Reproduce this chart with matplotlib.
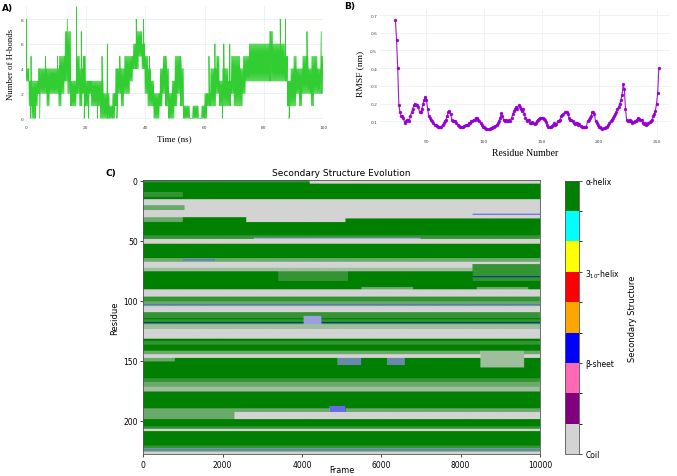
import numpy as np
import matplotlib
matplotlib.use("Agg")
import matplotlib.pyplot as plt
from matplotlib.colors import ListedColormap, BoundaryNorm

# ---- A) H-bonds per ns bin: low / high of the dense band, plus single spikes
hb_lo = [3, 1, 0, 1, 2, 2, 2, 1, 2, 2, 2, 1, 2, 3, 2, 1, 1, 2, 1, 2,
         1, 2, 1, 1, 1, 0, 0, 0, 0, 0, 1, 2, 1, 2, 2, 3, 4, 4, 5, 4,
         2, 1, 1, 0, 0, 1, 2, 1, 0, 0, 1, 2, 1, 0, 0, 0, 0, 0, 0, 0,
         0, 1, 1, 1, 2, 1, 1, 1, 1, 2, 1, 1, 1, 2, 3, 3, 3, 3, 3, 3,
         3, 3, 3, 3, 3, 3, 3, 3, 1, 1, 1, 2, 1, 2, 2, 2, 1, 2, 2, 2]
hb_hi = [4, 3, 3, 3, 4, 4, 4, 4, 4, 4, 4, 5, 5, 7, 7, 3, 3, 5, 4, 5,
         3, 3, 3, 3, 3, 3, 2, 2, 1, 2, 4, 4, 4, 5, 5, 5, 6, 7, 7, 6,
         5, 4, 3, 2, 2, 4, 5, 4, 2, 3, 5, 5, 4, 1, 1, 0, 1, 1, 0, 1,
         2, 2, 4, 4, 5, 3, 4, 4, 3, 5, 5, 5, 4, 5, 5, 6, 6, 6, 6, 6,
         6, 6, 7, 6, 6, 6, 6, 5, 3, 4, 5, 4, 4, 5, 5, 4, 5, 5, 4, 5]
hb_spike_t = [0.1, 1.6, 6.5, 10.5, 13.8, 16.9, 18.5, 25.5, 27.3, 31.5, 37.0, 39.5,
              41.5, 47.0, 52.0, 61.5, 63.5, 66.5, 68.5, 82.0, 85.5, 87.3, 94.5, 99.3,
              1.5, 3.0, 4.5, 19.5, 21.0, 24.0, 30.5, 44.0, 49.0, 66.0, 88.5]
hb_spike_v = [8, 5, 5, 5, 8, 9, 7, 5, 6, 5, 8, 8,
              5, 5, 5, 5, 6, 6, 6, 7, 8, 8, 7, 7,
              0, 0, 0, 0, 0, 0, 0, 0, 0, 0, 0]

# ---- B) RMSF per residue (nm)
rmsf_first_residue = 23
rmsf = [0.67, 0.56, 0.40, 0.19, 0.15, 0.13, 0.13, 0.12, 0.09, 0.10, 0.11, 0.11, 0.10, 0.13,
        0.15, 0.17, 0.19, 0.20, 0.19, 0.19, 0.18, 0.15, 0.15, 0.17, 0.20, 0.22, 0.24, 0.22,
        0.17, 0.13, 0.12, 0.11, 0.10, 0.09, 0.08, 0.08, 0.075, 0.07, 0.065, 0.07, 0.07, 0.08,
        0.09, 0.10, 0.11, 0.13, 0.15, 0.16, 0.14, 0.11, 0.10, 0.10, 0.10, 0.09, 0.08, 0.075,
        0.07, 0.07, 0.065, 0.07, 0.075, 0.08, 0.08,
        0.08, 0.09, 0.09, 0.10, 0.10, 0.11, 0.11, 0.12, 0.12, 0.11, 0.10, 0.09, 0.08, 0.07,
        0.065, 0.06, 0.055, 0.055, 0.055, 0.055, 0.06, 0.06, 0.065, 0.07, 0.075, 0.08, 0.09,
        0.10, 0.12, 0.145, 0.13, 0.11, 0.10, 0.11, 0.10, 0.10, 0.11, 0.10, 0.12, 0.14, 0.16,
        0.17, 0.18, 0.17, 0.19, 0.18, 0.17, 0.16, 0.17, 0.14, 0.12, 0.10, 0.11, 0.11, 0.09,
        0.09, 0.095, 0.09, 0.085, 0.09, 0.10, 0.11, 0.115, 0.12, 0.12, 0.12, 0.115, 0.11,
        0.095, 0.08, 0.066, 0.065, 0.07, 0.075, 0.08, 0.09, 0.08, 0.085, 0.10, 0.10, 0.11,
        0.13, 0.135, 0.14, 0.15, 0.155, 0.155, 0.14, 0.12, 0.11, 0.11, 0.10, 0.09, 0.085,
        0.09, 0.09, 0.08, 0.085, 0.075, 0.07, 0.07, 0.07, 0.07, 0.07, 0.10, 0.11, 0.12,
        0.13, 0.15, 0.155, 0.14, 0.10, 0.09, 0.08, 0.07, 0.065, 0.06, 0.055, 0.06, 0.06,
        0.065, 0.07, 0.08, 0.09, 0.10, 0.11, 0.12, 0.13, 0.14, 0.15, 0.17, 0.18, 0.20,
        0.22, 0.25, 0.31,
        0.28, 0.17, 0.11, 0.10, 0.10, 0.11, 0.10, 0.09, 0.095, 0.10, 0.10, 0.11, 0.12,
        0.115, 0.11, 0.11, 0.09, 0.085, 0.09, 0.08, 0.085, 0.09, 0.095, 0.10, 0.11, 0.13,
        0.14, 0.16, 0.20, 0.26, 0.40]

# ---- C) secondary structure: (res start, res end, frame start, frame end, pattern)
# pattern letters: H helix, C coil, E blue; several letters = rapidly alternating
n_res = 228
n_frames = 10000
ss_segments = [
    (0, 2, 0, 4200, "HHHC"), (0, 3, 4200, 10000, "C"),
    (10, 14, 0, 1000, "HHHC"),
    (16, 31, 0, 2600, "C"), (16, 35, 2600, 5100, "C"), (16, 32, 5100, 10000, "C"),
    (21, 25, 0, 1050, "HC"), (31, 35, 0, 1000, "HC"), (28, 29, 8300, 10000, "CE"),
    (46, 49, 0, 10000, "HHHC"), (48, 49, 2800, 7000, "CCCE"),
    (49, 53, 0, 10000, "C"),
    (65, 68, 0, 10000, "HC"), (66, 67, 1000, 1800, "CE"),
    (68, 73, 0, 10000, "C"),
    (73, 76, 0, 10000, "CHCC"),
    (76, 84, 3400, 5150, "HHHC"), (70, 84, 8300, 10000, "HHCH"), (80, 81, 8300, 10000, "HE"),
    (89, 91, 5500, 6800, "HC"), (89, 91, 8400, 9700, "HC"),
    (91, 97, 0, 10000, "C"),
    (97, 101, 0, 10000, "HHHC"), (101, 105, 0, 10000, "HC"), (103, 104, 0, 10000, "CE"),
    (105, 110, 0, 10000, "C"),
    (110, 115, 0, 10000, "HHHC"),
    (116, 120, 0, 10000, "HHCH"), (118, 119, 0, 10000, "HE"), (120, 124, 0, 10000, "CCHC"),
    (113, 120, 4050, 4500, "CCCE"),
    (124, 132, 0, 10000, "C"),
    (134, 137, 0, 10000, "HHHC"),
    (142, 145, 0, 10000, "HC"), (145, 148, 0, 10000, "C"),
    (148, 151, 0, 800, "HC"), (148, 154, 4900, 5500, "CHCE"), (148, 154, 6150, 6600, "CHCE"),
    (142, 156, 8500, 9600, "CCHC"),
    (165, 168, 0, 10000, "HHHC"),
    (168, 172, 0, 10000, "HC"), (172, 176, 0, 10000, "CCCH"),
    (190, 193, 0, 10000, "HC"), (188, 193, 4700, 5100, "CE"),
    (193, 199, 0, 10000, "C"), (193, 199, 0, 2300, "CH"),
    (205, 207, 0, 10000, "HHHC"), (207, 209, 0, 10000, "C"),
    (221, 223, 0, 10000, "HHCH"), (223, 226, 0, 10000, "HC"), (224, 225, 0, 10000, "CE"),
    (226, 228, 0, 10000, "C"),
]
ss_colors = ["lightgrey", "purple", "hotpink", "blue", "orange", "red", "yellow", "cyan", "green"]
ss_ticks = [0, 3, 6, 9]
ss_ticklabels = ["Coil", "β-sheet", "3$_{10}$-helix", "α-helix"]

W, H = 677, 477
fig = plt.figure(figsize=(W / 100, H / 100), dpi=100)

def box(x0, y0, x1, y1):
    return [x0 / W, 1 - y1 / H, (x1 - x0) / W, (y1 - y0) / H]

serif = "Liberation Serif"
grid_c = "#e8ebf2"

# ---------------- A
axA = fig.add_axes(box(26.3, 6.5, 323.3, 123))
t = []
v = []
steps = np.arange(6) / 6
for i in range(len(hb_lo)):
    for k, dt in enumerate(steps):
        t.append(i + dt)
        v.append(hb_hi[i] if k % 2 else hb_lo[i])
t = np.array(t + hb_spike_t)
v = np.array(v + hb_spike_v)
order = np.argsort(t, kind="stable")
axA.plot(t[order], v[order], color="#32cd32", lw=0.55)
axA.set_xlim(0, 100)
axA.set_ylim(-0.3, 9.1)
axA.set_xticks(range(0, 101, 20))
axA.set_yticks(range(0, 9, 2))
axA.grid(color=grid_c, lw=0.5)
axA.set_axisbelow(True)
for s in axA.spines.values():
    s.set_visible(False)
axA.tick_params(length=0, labelsize=3.2, labelcolor="#444", pad=2)
axA.set_xlabel("Time (ns)", family=serif, fontsize=6.5, labelpad=4)
axA.set_ylabel("Number of H-bonds", family=serif, fontsize=6.3, labelpad=4)

# ---------------- B
axB = fig.add_axes(box(380, 10, 670, 137))
res = np.arange(rmsf_first_residue, rmsf_first_residue + len(rmsf))
axB.plot(res, rmsf, color="#9400d3", lw=0.8, marker="o", ms=1.4, alpha=0.9)
axB.set_xlim(9.6, 261.7)
axB.set_ylim(0.017, 0.734)
axB.set_xticks([50, 100, 150, 200, 250])
axB.set_yticks([0.1, 0.2, 0.3, 0.4, 0.5, 0.6, 0.7])
axB.grid(color=grid_c, lw=0.5)
axB.set_axisbelow(True)
for s in axB.spines.values():
    s.set_visible(False)
axB.tick_params(length=0, labelsize=3.2, labelcolor="#444", pad=2)
axB.set_xlabel("Residue Number", family=serif, fontsize=7, labelpad=4)
axB.set_ylabel("RMSF (nm)", family=serif, fontsize=6.8, labelpad=4)

# ---------------- C
n_col = 1600
fpc = n_frames / n_col
ss = np.full((n_res, n_col), "H")
for r0, r1, f0, f1, pat in ss_segments:
    for j in range(int(round(f0 / fpc)), int(round(f1 / fpc))):
        ss[r0:r1, j] = pat[j % len(pat)]
code = {"C": 0.5, "E": 3.5, "H": 8.5}
mat = np.vectorize(code.get)(ss).astype(float)

cmap = ListedColormap(ss_colors)
norm = BoundaryNorm(np.arange(0, 10), cmap.N)
axC = fig.add_axes(box(143.3, 181.1, 540, 455))
im = axC.imshow(mat, cmap=cmap, norm=norm, aspect="auto", interpolation="antialiased",
                interpolation_stage="rgba", extent=[0, n_frames, n_res - 0.5, -0.5])
axC.set_xticks([0, 2000, 4000, 6000, 8000, 10000])
axC.set_yticks([0, 50, 100, 150, 200])
axC.tick_params(labelsize=5.5, length=2.5, width=0.5, pad=1.5)
for s in axC.spines.values():
    s.set_linewidth(0.6)
    s.set_color("#555")
axC.set_title("Secondary Structure Evolution", fontsize=6.5, pad=4)
axC.set_xlabel("Frame", fontsize=5.8)
axC.xaxis.set_label_coords(0.5, -0.04)
axC.set_ylabel("Residue", fontsize=6, labelpad=3)

cax = fig.add_axes(box(565, 181.7, 579, 455))
cb = fig.colorbar(im, cax=cax, ticks=ss_ticks)
cb.set_ticklabels(ss_ticklabels)
cb.ax.tick_params(labelsize=5.5, length=2.5, width=0.5, pad=2)
cb.outline.set_linewidth(0.6)
cb.outline.set_edgecolor("#555")
cb.set_label("Secondary Structure", fontsize=6, labelpad=6)

for lab, x, y in [("A)", 2, 9), ("B)", 344, 6), ("C)", 106, 174)]:
    fig.text(x / W, 1 - y / H, lab, fontsize=6.5, fontweight="bold", va="center", ha="left")

fig.savefig("out.png", dpi=100)
